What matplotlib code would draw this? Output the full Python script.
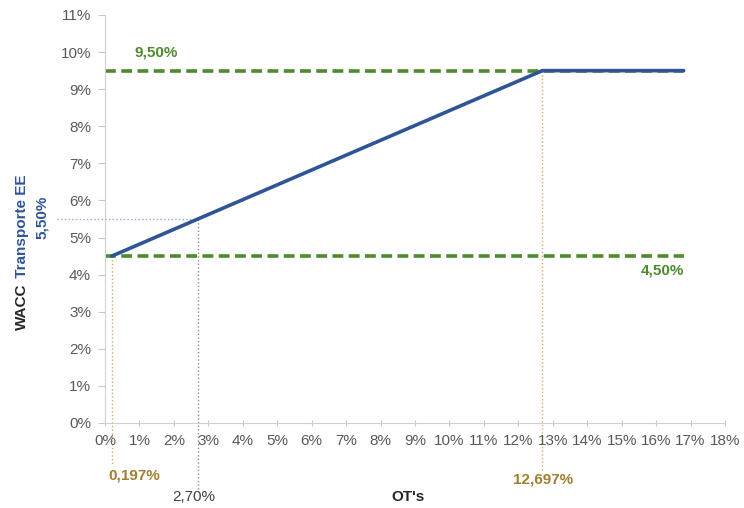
import matplotlib.pyplot as plt
from matplotlib.ticker import FuncFormatter

plt.rcParams['font.family'] = ['Liberation Sans Narrow', 'Liberation Sans', 'DejaVu Sans']

# data (in %)
wacc_x = [0.197, 12.697, 16.8]
wacc_y = [4.5, 9.5, 9.5]
floor_val = 4.5
cap_val = 9.5
line_end = 16.8
ot_low = 0.197
ot_high = 12.697
ot_mid = 2.70
wacc_mid = 5.50

green = "#4e8a2e"
blue = "#2f5597"
orange = "#d9a85a"
gray_tick = "#595959"

fig = plt.figure(figsize=(7.44, 5.08), dpi=100)
ax = fig.add_axes([105/744, 85/508, 620/744, 408/508])

ax.plot([0, line_end], [cap_val, cap_val], color=green, lw=2.6, ls=(0, (3, 1.5)), zorder=2)
ax.plot([0, line_end], [floor_val, floor_val], color=green, lw=2.6, ls=(0, (3, 1.5)), zorder=2)
ax.plot(wacc_x, wacc_y, color=blue, lw=2.6, zorder=3, solid_capstyle='round')

# guide lines
ax.plot([ot_low, ot_low], [floor_val, -1.1], color=orange, lw=1, ls=':', clip_on=False, zorder=1)
ax.plot([ot_high, ot_high], [cap_val, -1.3], color=orange, lw=1, ls=':', clip_on=False, zorder=1)
ax.plot([ot_mid, ot_mid], [wacc_mid, -1.85], color="#8c8c8c", lw=1, ls=':', clip_on=False, zorder=1)
ax.plot([-1.4, ot_mid], [wacc_mid, wacc_mid], color="#8faadc", lw=1, ls=':', clip_on=False, zorder=1)

ax.set_xlim(0, 18)
ax.set_ylim(0, 11)
ax.set_xticks(range(0, 19))
ax.set_yticks(range(0, 12))
pct = FuncFormatter(lambda v, p: f"{int(v)}%")
ax.xaxis.set_major_formatter(pct)
ax.yaxis.set_major_formatter(pct)

for s in ['top', 'right']:
    ax.spines[s].set_visible(False)
for s in ['left', 'bottom']:
    ax.spines[s].set_color("#d0d0d0")
ax.tick_params(axis='y', colors="#c8c8c8", labelcolor=gray_tick, labelsize=11, length=5, pad=5)
ax.tick_params(axis='x', colors="#c8c8c8", labelcolor=gray_tick, labelsize=11, length=4, pad=6, direction='inout')

# value labels
ax.text(0.85, 10.0, "9,50%", color=green, fontsize=11, fontweight='bold', va='center')
ax.text(16.8, 4.1, "4,50%", color=green, fontsize=11, fontweight='bold', va='center', ha='right')
fig.text(134/744, 1 - 475/508, "0,197%", color="#a08030", fontsize=11, fontweight='bold', ha='center', va='center')
fig.text(543/744, 1 - 480/508, "12,697%", color="#a08030", fontsize=11, fontweight='bold', ha='center', va='center')
fig.text(194/744, 1 - 497/508, "2,70%", color="#404040", fontsize=11, ha='center', va='center')
fig.text(408/744, 1 - 497/508, "OT's", color="#262626", fontsize=11, fontweight='bold', ha='center', va='center')

# y axis title
fig.text(22/744, 1 - 330/508, "WACC", color="#262626", fontsize=11, fontweight='bold',
         rotation=90, ha='center', va='bottom')
fig.text(22/744, 1 - 282/508, " Transporte EE", color=blue, fontsize=11, fontweight='bold',
         rotation=90, ha='center', va='bottom')
fig.text(42/744, 1 - 217/508, "5,50%", color=blue, fontsize=11, fontweight='bold',
         rotation=90, ha='center', va='center')

fig.savefig("out.png", dpi=100)
